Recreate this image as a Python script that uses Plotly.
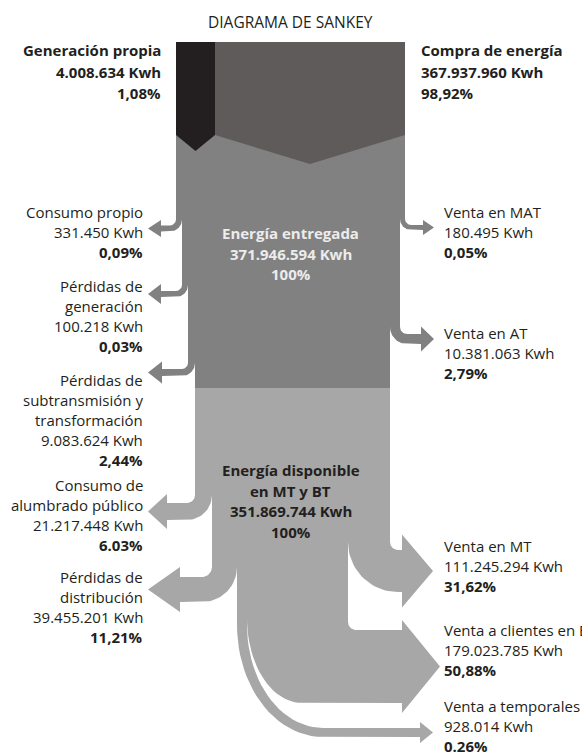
import numpy as np
import plotly.graph_objects as go

# ---------------- data ----------------
source_names = ["Generación propia", "Compra de energía"]
source_kwh = [4008634, 367937960]
source_pct = ["1,08%", "98,92%"]

delivered_lines = ["Energía entregada"]
delivered_kwh = 371946594
delivered_pct = "100%"

hv_left_names = [["Consumo propio"], ["Pérdidas de", "generación"],
                 ["Pérdidas de", "subtransmisión y", "transformación"]]
hv_left_kwh = [331450, 100218, 9083624]
hv_left_pct = ["0,09%", "0,03%", "2,44%"]

hv_right_names = [["Venta en MAT"], ["Venta en AT"]]
hv_right_kwh = [180495, 10381063]
hv_right_pct = ["0,05%", "2,79%"]

available_lines = ["Energía disponible", "en MT y BT"]
available_kwh = 351869744
available_pct = "100%"

lv_left_names = [["Consumo de", "alumbrado público"], ["Pérdidas de", "distribución"]]
lv_left_kwh = [21217448, 39455201]
lv_left_pct = ["6.03%", "11,21%"]

lv_right_names = [["Venta en MT"], ["Venta a clientes en BT"], ["Venta a temporales"]]
lv_right_kwh = [111245294, 179023785, 928014]
lv_right_pct = ["31,62%", "50,88%", "0.26%"]

title = "DIAGRAMA DE SANKEY"

# ---------------- style / layout (pixels) ----------------
W, H = 582, 752
FONT = "Open Sans"
TXT = "#231f20"
C_GEN, C_COMP, C_DEL, C_AV = "#231f20", "#5f5b5a", "#818181", "#a7a7a7"

TOP, CHEV_SIDE, GEN_TIP, COMP_TIP = 42, 135, 151, 164
X_L, X_SPLIT, X_R = 176, 215, 405
Y_MID = 388
Y_BOTTOM = 618

# display widths of bands (not to scale in the original infographic)
hv_left_w = [6, 6, 7]
hv_right_w = [5, 10]
lv_left_w = [17, 25]
lv_right_w = [42, 101, 10]

hv_left_shaft = [228.5, 294, 372.5]
hv_left_head = [(161, 148, 8.5), (161, 148, 10), (162, 148, 11)]
hv_left_r = [6, 6, 6]
hv_right_shaft = [227.5, 339]
hv_right_head = [(423, 434, 7.5), (421, 434, 12.5)]
hv_right_r = [6, 7]
lv_left_shaft = [503, 577]
lv_left_head = [(167, 148, 17.5), (180, 148, 22.5)]
lv_left_r = [8, 10]

fmt_kwh = lambda v: f"{v:,}".replace(",", ".") + " Kwh"

t = np.linspace(0, np.pi / 2, 24)


def band(x_near, x_far, y_top, s_top, s_bot, r_in, r_out, head, east):
    s = 1 if east else -1
    base, tip, half = head
    hc = (s_top + s_bot) / 2
    cx, cy = x_near + s * r_in[0], s_top - r_in[1]
    inner = list(zip(cx - s * r_in[0] * np.cos(t), cy + r_in[1] * np.sin(t)))
    cxo, cyo = x_far + s * r_out[0], s_bot - r_out[1]
    tt = t[::-1]
    outer = list(zip(cxo - s * r_out[0] * np.cos(tt), cyo + r_out[1] * np.sin(tt)))
    pts = ([(x_far, y_top), (x_near, y_top)] + inner +
           [(base, s_top), (base, hc - half), (tip, hc), (base, hc + half), (base, s_bot)] +
           outer + [(x_far, y_top)])
    xs, ys = zip(*pts)
    return list(xs), list(ys)


fig = go.Figure()


def poly(xs, ys, color):
    fig.add_trace(go.Scatter(x=xs, y=ys, mode="lines", fill="toself", fillcolor=color,
                             line=dict(width=0, color=color), hoverinfo="skip",
                             showlegend=False))


# ---- Energía entregada trunk + bands ----
left_edge = [X_L]
for w in hv_left_w:
    left_edge.append(left_edge[-1] + w)
right_edge = [X_R]
for w in hv_right_w:
    right_edge.append(right_edge[-1] - w)

bands_del = []
lsteps = []
for i, w in enumerate(hv_left_w):
    r = hv_left_r[i]
    st = hv_left_shaft[i] - w / 2
    sb = st + w
    ytop = st - r - 2
    lsteps.append(ytop + 2)
    bands_del.append(band(left_edge[i], left_edge[i + 1], ytop, st, sb, (r, r), (r + w, r + w),
                          hv_left_head[i], east=False))
rsteps = []
for i, w in enumerate(hv_right_w):
    r = hv_right_r[i]
    st = hv_right_shaft[i] - w / 2
    sb = st + w
    ytop = st - r - 2
    rsteps.append(ytop + 2)
    bands_del.append(band(right_edge[i], right_edge[i + 1], ytop, st, sb, (r, r), (r + w, r + w),
                          hv_right_head[i], east=True))

xs, ys = [X_L], [TOP]
for i in range(len(hv_left_w)):
    xs += [left_edge[i], left_edge[i + 1]]
    ys += [lsteps[i], lsteps[i]]
xs += [left_edge[-1], right_edge[-1]]
ys += [Y_MID, Y_MID]
for i in reversed(range(len(hv_right_w))):
    xs += [right_edge[i + 1], right_edge[i]]
    ys += [rsteps[i], rsteps[i]]
xs += [X_R]
ys += [TOP]
poly(xs, ys, C_DEL)
for bx, by in bands_del:
    poly(bx, by, C_DEL)

# ---- Energía disponible trunk + bands ----
a_left = [left_edge[-1]]
for w in lv_left_w:
    a_left.append(a_left[-1] + w)
a_right = [right_edge[-1], right_edge[-1] - lv_right_w[0]]

bands_av = []
alsteps = []
for i, w in enumerate(lv_left_w):
    r = lv_left_r[i]
    st = lv_left_shaft[i]
    sb = st + w
    ytop = st - r - 2
    alsteps.append(ytop + 2)
    bands_av.append(band(a_left[i], a_left[i + 1], ytop, st, sb, (r, r), (r + w, r + w),
                         lv_left_head[i], east=False))
# Venta en MT
w = lv_right_w[0]
mt_st = 550
bands_av.append(band(a_right[0], a_right[1], mt_st - 10, mt_st, mt_st + w, (8, 8), (8 + w, 8 + w),
                     (402, 433, 36.5), east=True))
mt_step = mt_st - 8
# Venta a clientes en BT
bt_near = a_right[1]
bt_far = bt_near - lv_right_w[1]
bands_av.append(band(bt_near, bt_far, Y_BOTTOM - 4, 630, 703, (8, 8), (55, 85),
                     (402, 440, 46.5), east=True))
# Venta a temporales
tp_near = bt_far
tp_far = tp_near - lv_right_w[2]
bands_av.append(band(tp_near, tp_far, Y_BOTTOM - 4, 728, 737, (76, 103), (86, 112),
                     (420, 433, 10.5), east=True))

xs, ys = [a_left[0]], [Y_MID]
for i in range(len(lv_left_w)):
    xs += [a_left[i], a_left[i + 1]]
    ys += [alsteps[i], alsteps[i]]
xs += [a_left[-1], a_right[1], a_right[1], a_right[0], a_right[0]]
ys += [Y_BOTTOM, Y_BOTTOM, mt_step, mt_step, Y_MID]
poly(xs, ys, C_AV)
for bx, by in bands_av:
    poly(bx, by, C_AV)

# ---- source chevrons ----
gx = [X_L, X_SPLIT, X_SPLIT, (X_L + X_SPLIT) / 2, X_L, X_L]
gy = [TOP, TOP, CHEV_SIDE, GEN_TIP, CHEV_SIDE, TOP]
poly(gx, gy, C_GEN)
cx_ = [X_SPLIT, X_R, X_R, (X_SPLIT + X_R) / 2, X_SPLIT, X_SPLIT]
cy_ = [TOP, TOP, CHEV_SIDE, COMP_TIP, CHEV_SIDE, TOP]
poly(cx_, cy_, C_COMP)

# ---------------- text ----------------
ann = []


def txt(x, y, s, anchor, color=TXT, bold=False, size=15):
    ann.append(dict(x=x, y=y, xref="x", yref="y", text=f"<b>{s}</b>" if bold else s,
                    showarrow=False, xanchor=anchor, yanchor="middle",
                    font=dict(family=FONT, size=size, color=color)))


def block(x, y0, lines, anchor, dy=20, bold_last=True, bold_all=False, color=TXT):
    for k, s in enumerate(lines):
        txt(x, y0 + k * dy, s, anchor, color=color,
            bold=bold_all or (bold_last and k == len(lines) - 1))


center_x = (X_L + X_R) / 2
txt(center_x, 22, title, "center", size=15.5)

block(163, 50, [source_names[0], fmt_kwh(source_kwh[0]), source_pct[0]], "right", dy=21.5, bold_all=True)
block(419, 50, [source_names[1], fmt_kwh(source_kwh[1]), source_pct[1]], "left", dy=21.5, bold_all=True)

block(center_x, 233, delivered_lines + [fmt_kwh(delivered_kwh), delivered_pct], "center",
      dy=20.5, bold_all=True, color="#ececec")
block(center_x, 470, available_lines + [fmt_kwh(available_kwh), available_pct], "center",
      dy=20.5, bold_all=True)

hv_left_y = [212, 286, 380]
for names, v, p, y in zip(hv_left_names, hv_left_kwh, hv_left_pct, hv_left_y):
    block(145, y, names + [fmt_kwh(v), p], "right")
lv_left_y = [485, 577]
for names, v, p, y in zip(lv_left_names, lv_left_kwh, lv_left_pct, lv_left_y):
    block(145, y, names + [fmt_kwh(v), p], "right")
hv_right_y = [212, 333]
for names, v, p, y in zip(hv_right_names, hv_right_kwh, hv_right_pct, hv_right_y):
    block(442, y, names + [fmt_kwh(v), p], "left")
lv_right_y = [546, 630, 706]
for names, v, p, y in zip(lv_right_names, lv_right_kwh, lv_right_pct, lv_right_y):
    block(442, y, names + [fmt_kwh(v), p], "left")

fig.update_layout(
    width=W, height=H, margin=dict(l=0, r=0, t=0, b=0),
    paper_bgcolor="white", plot_bgcolor="white",
    xaxis=dict(range=[0, W], visible=False, fixedrange=True),
    yaxis=dict(range=[H, 0], visible=False, fixedrange=True),
    annotations=ann, showlegend=False,
)
fig.write_html("out.html", config={"displayModeBar": False},
               post_script="document.body.style.margin='0';document.body.style.overflow='hidden';")
